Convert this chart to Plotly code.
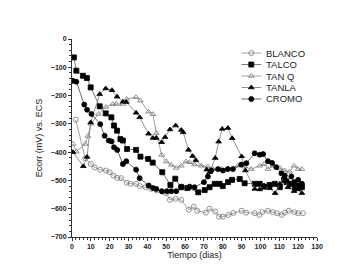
import plotly.graph_objects as go

# ---- data ----
blanco_x = [2, 7, 10, 12, 15, 18, 20, 22, 24, 26, 29, 31, 34, 36, 39, 42, 45, 48, 50, 52, 55, 58,
            62, 64.6, 66.4, 71, 73, 76, 78, 80, 83, 85.6, 90, 92.4, 97, 99.4, 101, 104, 106.5,
            108.7, 111.3, 113, 115, 118, 120, 122.5]
blanco_y = [-285, -422, -442, -454, -462, -465, -471, -483, -491, -492, -508, -512, -512, -520,
            -524, -530, -536, -540, -545, -569, -565, -569, -604, -593, -607, -614, -600, -610,
            -628, -628, -622, -615, -607, -614, -616, -622, -612, -607, -612, -616, -622, -614,
            -607, -612, -616, -616]

talco_x = [1, 2.3, 5.8, 7.9, 9.9, 14.7, 17.9, 20.9, 22.3, 23.9, 25.7, 27, 29.2, 34, 36.3, 40.4,
           42.8, 47.9, 52.2, 54.8, 58, 61.2, 67, 70.4, 73, 75.7, 78.3, 80, 82.8, 84.9, 89, 91.6,
           97, 99.6, 101.9, 104.9, 107.6, 110.3, 112.5, 113.8, 116.4, 118.2, 120, 122]
talco_y = [-65, -112, -130, -138, -171, -238, -263, -277, -306, -324, -354, -359, -389, -392,
           -416, -424, -437, -471, -516, -494, -524, -527, -542, -534, -524, -512, -512, -520,
           -506, -498, -495, -510, -512, -512, -522, -516, -512, -524, -498, -506, -512, -524,
           -518, -524]

tanq_x = [0.5, 2.3, 7, 8.5, 10, 14, 18, 21.7, 23.5, 27, 29, 34, 36.3, 40.6, 43, 44.7, 47.6,
          50, 52.7, 55.3, 58, 60.5, 62.4, 65, 68.6, 72.1, 74.8, 79.2, 82.7, 88, 91.6, 95.1, 99.6,
          101.9, 104, 106.6, 110.3, 112.9, 115.5, 117.8, 120, 122]
tanq_y = [-371, -398, -371, -343, -300, -265, -240, -230, -230, -230, -212, -206, -218, -257,
          -266, -333, -410, -433, -445, -456, -448, -433, -436, -444, -448, -451, -460, -460,
          -460, -448, -451, -460, -448, -442, -460, -448, -456, -465, -469, -448, -460, -460]

tanla_x = [0.5, 6, 8, 9.9, 14.7, 17.9, 21.2, 23.9, 27, 28.8, 34, 35.9, 40.6, 43, 44.7, 47.6,
           49.4, 52, 55, 58, 59, 61.8, 64, 65.7, 71.5, 73, 76, 77.8, 79.7, 82.7, 85, 90, 92,
           97, 99.6, 101.9, 104.9, 107.8, 110.3, 112.5, 114.6, 117.8, 120, 122]
tanla_y = [-400, -450, -417, -295, -195, -175, -181, -204, -222, -223, -261, -277, -335, -350,
           -350, -365, -347, -320, -306, -322, -330, -392, -414, -429, -462, -471, -421, -363,
           -318, -315, -351, -415, -465, -530, -532, -518, -528, -545, -512, -489, -524, -538,
           -532, -545]

cromo_x = [0.5, 2.3, 6.5, 8, 10.3, 15, 17.3, 19.5, 21, 22.3, 24, 27, 28.8, 34, 35.9, 40.7, 43,
           44.7, 47.7, 50.4, 52.7, 55.3, 58, 62.4, 65, 70, 72.1, 73.9, 77.5, 80.1, 82.7, 85.4,
           89.8, 92.5, 96.9, 99.6, 101.4, 104, 106.2, 108.4, 111.1, 112.9, 113.4, 116.4, 117.8,
           120, 122]
cromo_y = [-148, -151, -232, -250, -265, -301, -342, -359, -362, -383, -392, -442, -432, -462,
           -492, -518, -527, -530, -538, -538, -538, -538, -522, -522, -524, -506, -486, -465,
           -460, -465, -460, -460, -444, -439, -404, -409, -407, -432, -438, -453, -475, -483,
           -500, -486, -506, -498, -512]

names = ["BLANCO", "TALCO", "TAN Q", "TANLA", "CROMO"]
xs_all = [blanco_x, talco_x, tanq_x, tanla_x, cromo_x]
ys_all = [blanco_y, talco_y, tanq_y, tanla_y, cromo_y]
symbols = ["circle-open", "square", "triangle-up-open", "triangle-up", "circle"]
line_cols = ["#8a8a8a", "#555555", "#8a8a8a", "#777777", "#444444"]

FONT = "Liberation Sans, Arial"
fig = go.Figure()
for name, xs, ys, sym, lc in zip(names, xs_all, ys_all, symbols, line_cols):
    mcol = "#777777" if "open" in sym else "#000000"
    fig.add_trace(go.Scatter(
        x=xs, y=ys, name=name, mode="lines+markers", showlegend=False,
        line=dict(color=lc, width=0.8),
        marker=dict(symbol=sym, size=5, color=mcol, line=dict(color=mcol, width=0.8)),
    ))

# ---- compact legend (keys on an overlay axis whose units are ~1 px) ----
for i, (name, sym, lc) in enumerate(zip(names, symbols, line_cols)):
    mcol = "#777777" if "open" in sym else "#000000"
    fig.add_trace(go.Scatter(
        x=[0, 10, 20], y=[i, i, i], xaxis="x2", yaxis="y2", mode="lines",
        line=dict(color=lc, width=0.8), showlegend=False, hoverinfo="skip"))
    fig.add_trace(go.Scatter(
        x=[10], y=[i], xaxis="x2", yaxis="y2", mode="markers", showlegend=False,
        marker=dict(symbol=sym, size=5, color=mcol, line=dict(color=mcol, width=0.8)),
        hoverinfo="skip"))
    fig.add_annotation(x=23, y=i, xref="x2", yref="y2", text=name, showarrow=False,
                       xanchor="left", yanchor="middle",
                       font=dict(family=FONT, size=9.5, color="#222222"))

axis_common = dict(
    showline=True, linecolor="#333333", linewidth=1,
    ticks="outside", ticklen=3, tickcolor="#333333",
    showgrid=False, zeroline=False, mirror=False,
    tickfont=dict(family=FONT, size=7, color="#222222", weight="bold"),
    minor=dict(ticks="outside", ticklen=2, tickcolor="#333333"),
)

fig.update_layout(
    xaxis=dict(range=[0, 130], dtick=10, title=dict(text="Tiempo (dias)", standoff=2,
               font=dict(family=FONT, size=9, color="#222222")), **axis_common),
    yaxis=dict(range=[-700, 0], dtick=100, title=dict(text="Ecorr (mV) vs. ECS", standoff=6,
               font=dict(family=FONT, size=9, color="#222222")), **axis_common),
    # overlay axes for the legend block
    xaxis2=dict(domain=[0.691, 0.95], range=[0, 63.5], visible=False, anchor="y2"),
    yaxis2=dict(domain=[0.668, 0.958], range=[4.5, -0.5], visible=False, anchor="x2"),
    width=359, height=275,
    margin=dict(l=64, r=50, t=31, b=46),
    plot_bgcolor="white", paper_bgcolor="white",
    font=dict(family=FONT, size=9, color="#222222"),
    showlegend=False,
)

fig.write_html("out.html")
